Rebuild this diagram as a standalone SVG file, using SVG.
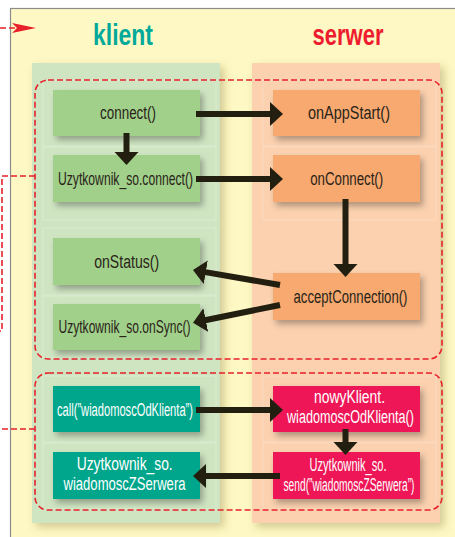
<svg xmlns="http://www.w3.org/2000/svg" width="455" height="537" viewBox="0 0 455 537">
<style>
.t{font-family:"Liberation Sans",Arial,sans-serif;font-size:18px;fill:#2a2418;text-anchor:middle}
.w{fill:#ffffff}
.title{font-family:"Liberation Sans",Arial,sans-serif;font-size:30px;font-weight:bold;text-anchor:middle}
.dash{fill:none;stroke:#e8202a;stroke-width:1.6;stroke-dasharray:6 3}
.arr{fill:none;stroke:#221e10;stroke-width:6;marker-end:url(#ah)}
.panelG{fill:none;stroke:#dbebd0;stroke-width:1}
.panelO{fill:none;stroke:#fcdac0;stroke-width:1}
.green{fill:#a1d08b}
.orange{fill:#f7a970}
.teal{fill:#00a68b}
.mag{fill:#ee1657}
</style>
<defs>
<filter id="sh" x="-20%" y="-30%" width="150%" height="180%">
<feDropShadow dx="3" dy="4" stdDeviation="3" flood-color="#000" flood-opacity="0.3"/>
</filter>
<filter id="csh" x="-10%" y="-5%" width="130%" height="115%">
<feDropShadow dx="4" dy="4" stdDeviation="4" flood-color="#6b5a20" flood-opacity="0.3"/>
</filter>
<marker id="ah" viewBox="0 0 13 26" markerWidth="13" markerHeight="26" refX="2" refY="13" orient="auto" markerUnits="userSpaceOnUse">
<path d="M0,1 L13,13 L0,25 Z" fill="#221e10"/>
</marker>
</defs>

<rect x="0" y="0" width="455" height="537" fill="#ffffff"/>
<rect x="10.5" y="8.5" width="450" height="540" fill="#fef8c4" stroke="#8c8c8c" stroke-width="1.2"/>

<g id="columns">
<rect x="32" y="63" width="188" height="460" fill="#cfe5c2" filter="url(#csh)"/>
<rect x="252" y="63" width="188" height="460" fill="#fbd1af" filter="url(#csh)"/>
<rect class="panelG" x="43" y="80" width="173" height="66"/>
<rect class="panelG" x="43" y="147" width="173" height="73"/>
<rect class="panelG" x="43" y="228" width="173" height="67"/>
<rect class="panelG" x="43" y="296" width="173" height="62"/>
<rect class="panelG" x="43" y="376" width="173" height="66"/>
<rect class="panelG" x="43" y="443" width="173" height="66"/>
<rect class="panelO" x="263" y="80" width="173" height="66"/>
<rect class="panelO" x="263" y="147" width="173" height="73"/>
<rect class="panelO" x="263" y="376" width="173" height="66"/>
<rect class="panelO" x="263" y="443" width="173" height="66"/>
</g>

<g id="titles">
<text class="title" x="123" y="45" fill="#00a99a" textLength="60" lengthAdjust="spacingAndGlyphs">klient</text>
<text class="title" x="348" y="45" fill="#ed1c2e" textLength="71" lengthAdjust="spacingAndGlyphs">serwer</text>
</g>

<g id="groups">
<rect class="dash" x="35" y="80" width="407" height="279" rx="13"/>
<rect class="dash" x="35" y="373" width="407" height="137" rx="13"/>
<path class="dash" d="M35,176 H2 V331 H0"/>
<path class="dash" d="M35,429 H0"/>
<path class="dash" d="M0,28 H15"/>
<path d="M12,23 L36,28 L12,33 L17,28 Z" fill="#e8202a"/>
</g>

<g id="connect">
<rect class="green" x="53" y="90" width="147" height="46" filter="url(#sh)"/>
<text class="t" x="128" y="118.5" textLength="56" lengthAdjust="spacingAndGlyphs">connect()</text>
</g>
<g id="uzytkownik-connect">
<rect class="green" x="53" y="155" width="147" height="47" filter="url(#sh)"/>
<text class="t" x="125.5" y="184.5" textLength="135" lengthAdjust="spacingAndGlyphs">Uzytkownik_so.connect()</text>
</g>
<g id="onStatus">
<rect class="green" x="53" y="238" width="147" height="47" filter="url(#sh)"/>
<text class="t" x="126.7" y="267.5" textLength="65" lengthAdjust="spacingAndGlyphs">onStatus()</text>
</g>
<g id="onSync">
<rect class="green" x="53" y="304" width="147" height="46" filter="url(#sh)"/>
<text class="t" x="124.5" y="332.5" textLength="132" lengthAdjust="spacingAndGlyphs">Uzytkownik_so.onSync()</text>
</g>
<g id="call">
<rect class="teal" x="53" y="386" width="147" height="46" filter="url(#sh)"/>
<text class="t w" x="125" y="415.5" textLength="136" lengthAdjust="spacingAndGlyphs">call(”wiadomoscOdKlienta”)</text>
</g>
<g id="wiadomoscZSerwera">
<rect class="teal" x="53" y="452" width="147" height="47" filter="url(#sh)"/>
<text class="t w" x="124.7" y="469.5" textLength="96" lengthAdjust="spacingAndGlyphs">Uzytkownik_so.</text>
<text class="t w" x="124.5" y="489.5" textLength="122" lengthAdjust="spacingAndGlyphs">wiadomoscZSerwera</text>
</g>

<g id="onAppStart">
<rect class="orange" x="273" y="90" width="147" height="46" filter="url(#sh)"/>
<text class="t" x="349" y="118.5" textLength="82" lengthAdjust="spacingAndGlyphs">onAppStart()</text>
</g>
<g id="onConnect">
<rect class="orange" x="273" y="155" width="147" height="47" filter="url(#sh)"/>
<text class="t" x="346.7" y="184.5" textLength="73" lengthAdjust="spacingAndGlyphs">onConnect()</text>
</g>
<g id="acceptConnection">
<rect class="orange" x="273" y="273" width="147" height="47" filter="url(#sh)"/>
<text class="t" x="350.5" y="302.5" textLength="114" lengthAdjust="spacingAndGlyphs">acceptConnection()</text>
</g>
<g id="nowyKlient">
<rect class="mag" x="273" y="386" width="147" height="46" filter="url(#sh)"/>
<text class="t w" x="349.5" y="402.5" textLength="71" lengthAdjust="spacingAndGlyphs">nowyKlient.</text>
<text class="t w" x="350.5" y="423" textLength="127" lengthAdjust="spacingAndGlyphs">wiadomoscOdKlienta()</text>
</g>
<g id="send">
<rect class="mag" x="273" y="452" width="147" height="47" filter="url(#sh)"/>
<text class="t w" x="348" y="470.5" textLength="77" lengthAdjust="spacingAndGlyphs">Uzytkownik_so.</text>
<text class="t w" x="349" y="491" textLength="131" lengthAdjust="spacingAndGlyphs">send(”wiadomoscZSerwera”)</text>
</g>

<g id="connectors">
<path class="arr" d="M196,114 H272"/>
<path class="arr" d="M126.5,133 V154"/>
<path class="arr" d="M196,179 H272"/>
<path class="arr" d="M345.5,199 V266"/>
<path class="arr" d="M280,285 L203.8,271.9"/>
<path class="arr" d="M280,305 L203.8,320.5"/>
<path class="arr" d="M196,410 H272"/>
<path class="arr" d="M345.5,429 V444"/>
<path class="arr" d="M280,476 H204"/>
</g>
</svg>
